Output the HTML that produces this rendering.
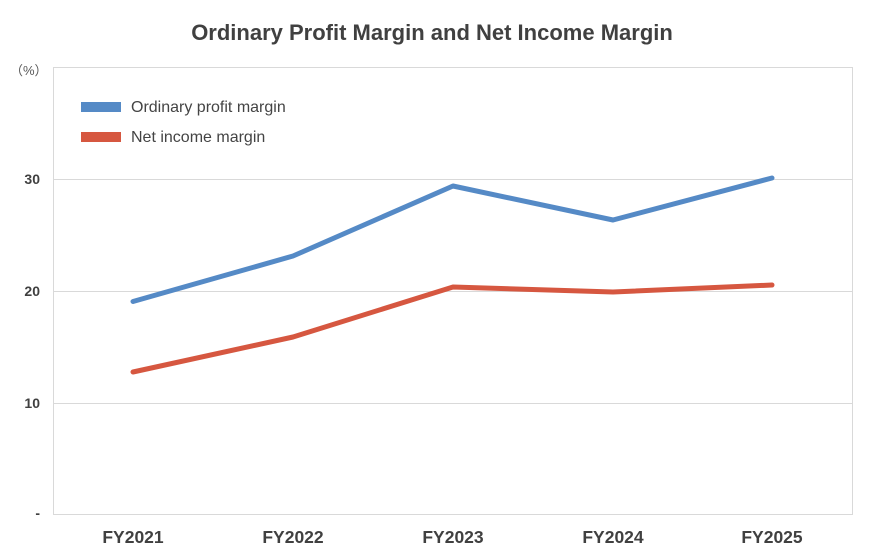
<!DOCTYPE html>
<html><head><meta charset="utf-8"><style>
html,body{margin:0;padding:0;background:#fff;}
svg{display:block;font-family:"Liberation Sans",Arial,sans-serif;}
</style></head><body>
<svg width="870" height="560" viewBox="0 0 870 560">
<text x="432" y="40" text-anchor="middle" font-size="22" font-weight="bold" fill="#404040">Ordinary Profit Margin and Net Income Margin</text>
<rect x="53.5" y="67.5" width="799" height="447" fill="#fff" stroke="#d9d9d9" stroke-width="1"/>
<g stroke="#d9d9d9" stroke-width="1">
<line x1="53" y1="179.5" x2="853" y2="179.5"/>
<line x1="53" y1="291.5" x2="853" y2="291.5"/>
<line x1="53" y1="403.5" x2="853" y2="403.5"/>
</g>
<g font-size="14" font-weight="bold" fill="#404040" text-anchor="end">
<text x="40" y="184">30</text>
<text x="40" y="296">20</text>
<text x="40" y="408">10</text>
<text x="40" y="518">-</text>
</g>
<text x="10" y="75" font-size="13" fill="#595959" font-family="'Liberation Sans','Noto Sans CJK JP',sans-serif">（%）</text>
<g font-size="17.5" font-weight="bold" fill="#404040" text-anchor="middle">
<text x="133" y="543">FY2021</text>
<text x="293" y="543">FY2022</text>
<text x="453" y="543">FY2023</text>
<text x="613" y="543">FY2024</text>
<text x="772" y="543">FY2025</text>
</g>
<polyline points="133,301.5 293,256 453,186 613,220 772,178" fill="none" stroke="#558ac6" stroke-width="5" stroke-linejoin="round" stroke-linecap="round"/>
<polyline points="133,372 293,337 453,287 613,292 772,285" fill="none" stroke="#d65740" stroke-width="5" stroke-linejoin="round" stroke-linecap="round"/>
<rect x="81" y="102" width="40" height="10" fill="#558ac6"/>
<rect x="81" y="132" width="40" height="10" fill="#d65740"/>
<text x="131" y="112" font-size="16" fill="#444">Ordinary profit margin</text>
<text x="131" y="142" font-size="16" fill="#444">Net income margin</text>
</svg>
</body></html>
